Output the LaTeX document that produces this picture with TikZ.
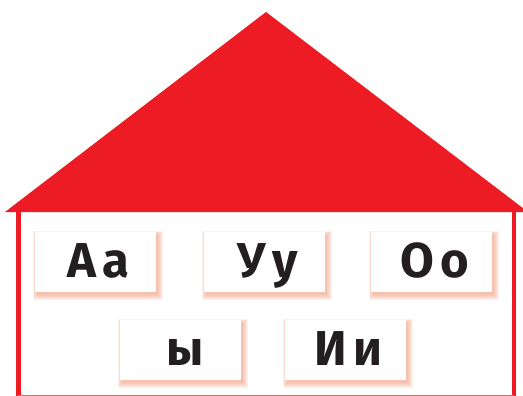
\documentclass[tikz,border=0pt]{standalone}
\usepackage{fontspec}
\setmainfont{Fira Sans}
\definecolor{roofred}{HTML}{ED1C24}
\definecolor{ink}{HTML}{231F20}
\definecolor{glow}{HTML}{F08A68}
\begin{document}
\begin{tikzpicture}[x=1pt,y=-1pt,
  letterbox/.style={fill=white, minimum width=121pt, minimum height=60pt, inner sep=0pt,
    text height=40pt, text depth=10pt,
    font=\fontsize{49}{49}\selectfont\bfseries, text=ink, anchor=north west},
  wall/.style={draw=roofred, line width=4.5pt}]
\useasboundingbox (0,0) rectangle (523,396);
\fill[white] (0,0) rectangle (523,396);
% roof
\fill[roofred] (5,212) -- (266,12) -- (528,212) -- cycle;
\coordinate (lwt) at (18.5,212);
\coordinate (lwb) at (18.5,398);
\coordinate (rwt) at (514,212);
\coordinate (rwb) at (514,398);
\draw[wall] (lwt) -- (lwb);
\draw[wall] (rwt) -- (rwb);
\coordinate (bl) at (18,395.5);
\coordinate (br) at (514,395.5);
\draw[roofred!70, line width=1.2pt] (bl) -- (br);
% glow shadows
\foreach \bx/\by in {35/232, 204/232, 371/232, 120/320, 285/320}{
  \foreach \i in {1,...,6}{
    \fill[glow, opacity=0.11] (\bx+3-\i*0.9, \by+3-\i*0.7) rectangle (\bx+121+1+\i, \by+60+2+\i);
  }
}
\node[letterbox] (aa) at (35,232) {\hspace*{6pt}A\hspace{6pt}a};
\node[letterbox] (uu) at (204,232) {\hspace*{6pt}У\hspace{6pt}у};
\node[letterbox] (oo) at (371,232) {\hspace*{6pt}О\hspace{6pt}о};
\node[letterbox] (yy) at (120,320) {\hspace*{8pt}ы};
\node[letterbox] (ii) at (285,320) {\hspace*{6pt}И\hspace{6pt}и};
\end{tikzpicture}
\end{document}
